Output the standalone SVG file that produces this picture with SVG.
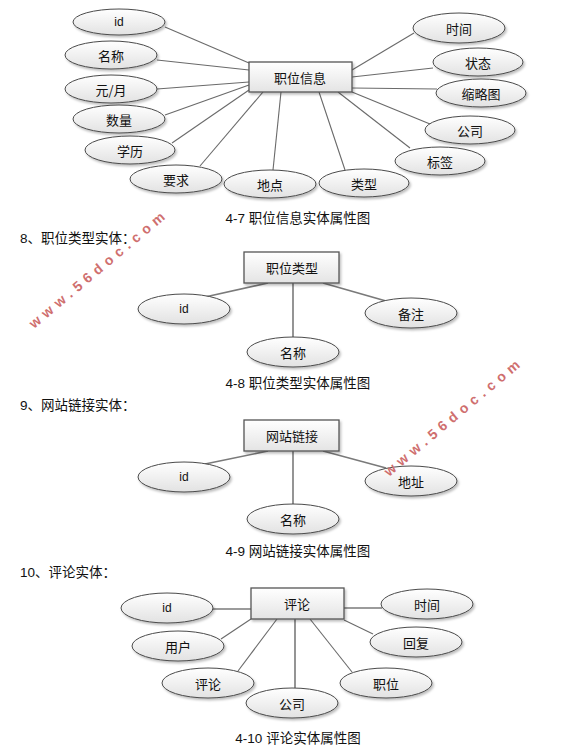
<svg xmlns="http://www.w3.org/2000/svg" width="587" height="750" viewBox="0 0 587 750">
<defs>
<linearGradient id="eg" x1="0" y1="0" x2="0" y2="1"><stop offset="0" stop-color="#ffffff"/><stop offset="1" stop-color="#e2e2e2"/></linearGradient>
<linearGradient id="rg" x1="0" y1="0" x2="0" y2="1"><stop offset="0" stop-color="#ffffff"/><stop offset="1" stop-color="#e4e4e4"/></linearGradient>
<filter id="sh" x="-10%" y="-10%" width="130%" height="140%"><feDropShadow dx="1.5" dy="2" stdDeviation="1.2" flood-color="#000" flood-opacity="0.25"/></filter>
</defs>
<style>
.e{fill:url(#eg);stroke:#4a4a4a;stroke-width:1;filter:url(#sh)}
.r{fill:url(#rg);stroke:#555;stroke-width:1.3;filter:url(#sh)}
.t{font-family:"Noto Sans CJK SC","Liberation Sans",sans-serif;font-size:13px;fill:#111;text-anchor:middle;dominant-baseline:central}
.l{font-family:"Liberation Sans",sans-serif;font-size:12px;fill:#111;text-anchor:middle;dominant-baseline:central}
.c{font-family:"Liberation Sans","Noto Sans CJK SC",sans-serif;font-size:13.5px;fill:#111}
.cm{text-anchor:middle}
.k{stroke:#6a6a6a;stroke-width:1.1;fill:none}
.k2{stroke:#7a7a7a;stroke-width:1.6;fill:none}
.w{font-family:"Liberation Sans",sans-serif;font-weight:bold;font-size:14px;fill:#cf6f6f}
</style>
<rect width="587" height="750" fill="#fff"/>

<g id="connectors">
<line class="k" x1="165" y1="27" x2="249" y2="63"/>
<line class="k" x1="157" y1="60" x2="249" y2="70"/>
<line class="k" x1="157" y1="89" x2="249" y2="82"/>
<line class="k" x1="165" y1="115" x2="249" y2="85"/>
<line class="k" x1="172" y1="143" x2="249" y2="90"/>
<line class="k" x1="200" y1="166" x2="263" y2="92"/>
<line class="k" x1="273" y1="170" x2="281" y2="92"/>
<line class="k" x1="345" y1="170" x2="319" y2="92"/>
<line class="k" x1="410" y1="148" x2="338" y2="92"/>
<line class="k" x1="430" y1="124" x2="352" y2="92"/>
<line class="k" x1="437" y1="89" x2="352" y2="88"/>
<line class="k" x1="433" y1="68" x2="352" y2="77"/>
<line class="k" x1="414" y1="33" x2="352" y2="70"/>

<line class="k2" x1="205" y1="297" x2="268" y2="283"/>
<line class="k2" x1="293" y1="283" x2="293" y2="337"/>
<line class="k2" x1="323" y1="283" x2="386" y2="301"/>

<line class="k2" x1="205" y1="464" x2="268" y2="451"/>
<line class="k2" x1="293" y1="451" x2="293" y2="504"/>
<line class="k2" x1="323" y1="451" x2="386" y2="468"/>

<line class="k2" x1="213" y1="609" x2="251" y2="609"/>
<line class="k2" x1="344" y1="608" x2="382" y2="608"/>
<line class="k" x1="221" y1="639" x2="251" y2="619"/>
<line class="k" x1="344" y1="620" x2="373" y2="634"/>
<line class="k" x1="238" y1="671" x2="277" y2="619"/>
<line class="k" x1="352" y1="672" x2="310" y2="619"/>
<line class="k2" x1="295" y1="619" x2="295" y2="688"/>
</g>

<!-- Diagram 4-7 -->
<g id="job"><rect class="r" x="249" y="62" width="103" height="30"/><text class="t" x="300" y="77">职位信息</text></g>
<g id="job-id"><ellipse class="e" cx="119" cy="22" rx="46" ry="13"/><text class="l" x="119" y="22">id</text></g>
<g id="job-name"><ellipse class="e" cx="111" cy="55" rx="46" ry="14"/><text class="t" x="111" y="55">名称</text></g>
<g id="job-salary"><ellipse class="e" cx="111" cy="89" rx="46" ry="14"/><text class="t" x="111" y="89">元/月</text></g>
<g id="job-count"><ellipse class="e" cx="119" cy="119" rx="46" ry="14"/><text class="t" x="119" y="119">数量</text></g>
<g id="job-edu"><ellipse class="e" cx="130" cy="150" rx="45" ry="14"/><text class="t" x="130" y="150">学历</text></g>
<g id="job-req"><ellipse class="e" cx="176" cy="179" rx="46" ry="14"/><text class="t" x="176" y="179">要求</text></g>
<g id="job-place"><ellipse class="e" cx="270" cy="184" rx="46" ry="14"/><text class="t" x="270" y="184">地点</text></g>
<g id="job-type"><ellipse class="e" cx="364" cy="183" rx="45" ry="14"/><text class="t" x="364" y="183">类型</text></g>
<g id="job-time"><ellipse class="e" cx="459" cy="28" rx="46" ry="15"/><text class="t" x="459" y="28">时间</text></g>
<g id="job-state"><ellipse class="e" cx="478" cy="62" rx="45" ry="14"/><text class="t" x="478" y="62">状态</text></g>
<g id="job-thumb"><ellipse class="e" cx="481" cy="93" rx="45" ry="14"/><text class="t" x="481" y="93">缩略图</text></g>
<g id="job-company"><ellipse class="e" cx="470" cy="130" rx="45" ry="14"/><text class="t" x="470" y="130">公司</text></g>
<g id="job-tag"><ellipse class="e" cx="440" cy="161" rx="45" ry="14"/><text class="t" x="440" y="161">标签</text></g>
<text class="c cm" x="298" y="223">4-7 职位信息实体属性图</text>

<text class="c" x="20" y="243">8、职位类型实体：</text>

<!-- Diagram 4-8 -->
<g id="jobtype"><rect class="r" x="244" y="252" width="95" height="31"/><text class="t" x="292" y="267">职位类型</text></g>
<g id="jobtype-id"><ellipse class="e" cx="184" cy="309" rx="46" ry="15"/><text class="l" x="184" y="309">id</text></g>
<g id="jobtype-name"><ellipse class="e" cx="293" cy="352" rx="46" ry="15"/><text class="t" x="293" y="352">名称</text></g>
<g id="jobtype-note"><ellipse class="e" cx="411" cy="313" rx="46" ry="15"/><text class="t" x="411" y="313">备注</text></g>
<text class="c cm" x="298" y="388">4-8 职位类型实体属性图</text>

<text class="c" x="20" y="410">9、网站链接实体：</text>

<!-- Diagram 4-9 -->
<g id="link"><rect class="r" x="244" y="420" width="95" height="31"/><text class="t" x="292" y="435">网站链接</text></g>
<g id="link-id"><ellipse class="e" cx="184" cy="477" rx="46" ry="15"/><text class="l" x="184" y="477">id</text></g>
<g id="link-name"><ellipse class="e" cx="293" cy="519" rx="46" ry="15"/><text class="t" x="293" y="519">名称</text></g>
<g id="link-addr"><ellipse class="e" cx="411" cy="481" rx="46" ry="15"/><text class="t" x="411" y="481">地址</text></g>
<text class="c cm" x="298" y="556">4-9 网站链接实体属性图</text>

<text class="c" x="20" y="577">10、评论实体：</text>

<!-- Diagram 4-10 -->
<g id="comment"><rect class="r" x="251" y="588" width="93" height="31"/><text class="t" x="297" y="603">评论</text></g>
<g id="comment-id"><ellipse class="e" cx="167" cy="608" rx="46" ry="15"/><text class="l" x="167" y="608">id</text></g>
<g id="comment-time"><ellipse class="e" cx="427" cy="604" rx="46" ry="15"/><text class="t" x="427" y="604">时间</text></g>
<g id="comment-user"><ellipse class="e" cx="178" cy="646" rx="46" ry="15"/><text class="t" x="178" y="646">用户</text></g>
<g id="comment-reply"><ellipse class="e" cx="416" cy="642" rx="46" ry="15"/><text class="t" x="416" y="642">回复</text></g>
<g id="comment-text"><ellipse class="e" cx="208" cy="683" rx="46" ry="15"/><text class="t" x="208" y="683">评论</text></g>
<g id="comment-job"><ellipse class="e" cx="386" cy="683" rx="46" ry="15"/><text class="t" x="386" y="683">职位</text></g>
<g id="comment-company"><ellipse class="e" cx="292" cy="703" rx="46" ry="15"/><text class="t" x="292" y="703">公司</text></g>
<text class="c cm" x="298" y="743">4-10 评论实体属性图</text>

<text class="w" transform="translate(34,329) rotate(-40)" textLength="172" lengthAdjust="spacing">www.56doc.com</text>
<text class="w" transform="translate(389,477) rotate(-40)" textLength="172" lengthAdjust="spacing">www.56doc.com</text>
</svg>
